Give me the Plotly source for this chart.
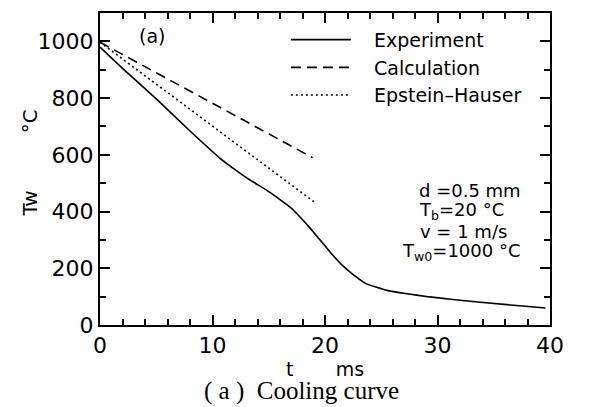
import plotly.graph_objects as go

# Experiment curve (t in ms, Tw in °C)
exp_t = [0, 2, 5, 8, 10.7, 12, 13.3, 14.7, 16, 17, 17.8, 18.6, 19.3, 20.5, 21.5, 22.5, 23.7, 25.5, 27.3, 29.3, 33.8, 39.6]
exp_T = [980, 905, 797, 684, 587, 548, 512, 478, 442, 412, 380, 345, 312, 255, 212, 178, 145, 122, 110, 99, 80, 60]

# Calculation
calc_t = [0, 18.9]
calc_T = [997, 590]

# Epstein-Hauser
eh_t = [0, 19]
eh_T = [997, 435]

FONT = "DejaVu Sans, sans-serif"
SERIF = "Liberation Serif, Times New Roman, serif"
SP = "\u00a0"

fig = go.Figure()
fig.add_trace(go.Scatter(x=exp_t, y=exp_T, mode="lines", name=SP * 3 + "Experiment",
                         line=dict(color="black", width=1.6, shape="spline", smoothing=0.4)))
fig.add_trace(go.Scatter(x=calc_t, y=calc_T, mode="lines", name=SP * 3 + "Calculation",
                         line=dict(color="black", width=1.6, dash="10px,6px")))
fig.add_trace(go.Scatter(x=eh_t, y=eh_T, mode="lines", name=SP * 3 + "Epstein\u2013Hauser",
                         line=dict(color="black", width=1.6, dash="2px,3px")))

axis_common = dict(showline=True, linecolor="black", linewidth=2, mirror="allticks",
                   ticks="inside", tickcolor="black", tickwidth=1.5, ticklen=10,
                   showgrid=False, zeroline=False,
                   tickfont=dict(family=FONT, size=22, color="black"))

fig.update_xaxes(range=[0, 40], tick0=0, dtick=10,
                 minor=dict(ticks="inside", dtick=2, ticklen=6, tickcolor="black", tickwidth=1.5),
                 **axis_common)
fig.update_yaxes(range=[0, 1100], tick0=0, dtick=200,
                 minor=dict(ticks="inside", dtick=100, ticklen=6, tickcolor="black", tickwidth=1.5),
                 **axis_common)

txt = dict(family=FONT, size=18, color="black")
ann = [
    dict(text="(a)", x=4.6, y=1019, xref="x", yref="y", showarrow=False,
         font=dict(family=FONT, size=19, color="black")),
    dict(text="d =0.5 mm", x=28.2, y=475, xref="x", yref="y", xanchor="left", showarrow=False, font=txt),
    dict(text="T<sub>b</sub>=20 °C", x=28.2, y=403, xref="x", yref="y", xanchor="left", showarrow=False, font=txt),
    dict(text="v = 1 m/s", x=28.3, y=328, xref="x", yref="y", xanchor="left", showarrow=False, font=txt),
    dict(text="T<sub>w0</sub>=1000 °C", x=26.7, y=257, xref="x", yref="y", xanchor="left", showarrow=False, font=txt),
    dict(text="t" + SP * 7 + "ms", x=0.5, y=-0.14, xref="paper", yref="paper",
         showarrow=False, yanchor="middle", font=dict(family=FONT, size=19, color="black")),
    dict(text="Tw" + SP * 9 + "°C", x=-0.187, y=0.52, xref="paper", yref="paper",
         textangle=-90, showarrow=False, font=dict(family=FONT, size=20, color="black")),
    dict(text="(" + SP + "a" + SP + ")" + SP * 2 + "Cooling curve", x=(301 - 100) / 450, y=(325 - 391) / 314,
         xref="paper", yref="paper", showarrow=False, yanchor="middle",
         font=dict(family=SERIF, size=25, color="black")),
]

fig.update_layout(
    width=593, height=407,
    margin=dict(l=100, r=43, t=11, b=82),
    paper_bgcolor="white", plot_bgcolor="white",
    showlegend=True,
    legend=dict(x=0.413, y=0.975, xanchor="left", yanchor="top", bgcolor="rgba(0,0,0,0)",
                font=dict(family=FONT, size=19, color="black"), itemwidth=60,
                tracegroupgap=0),
    annotations=ann,
)

fig.write_html("out.html")
